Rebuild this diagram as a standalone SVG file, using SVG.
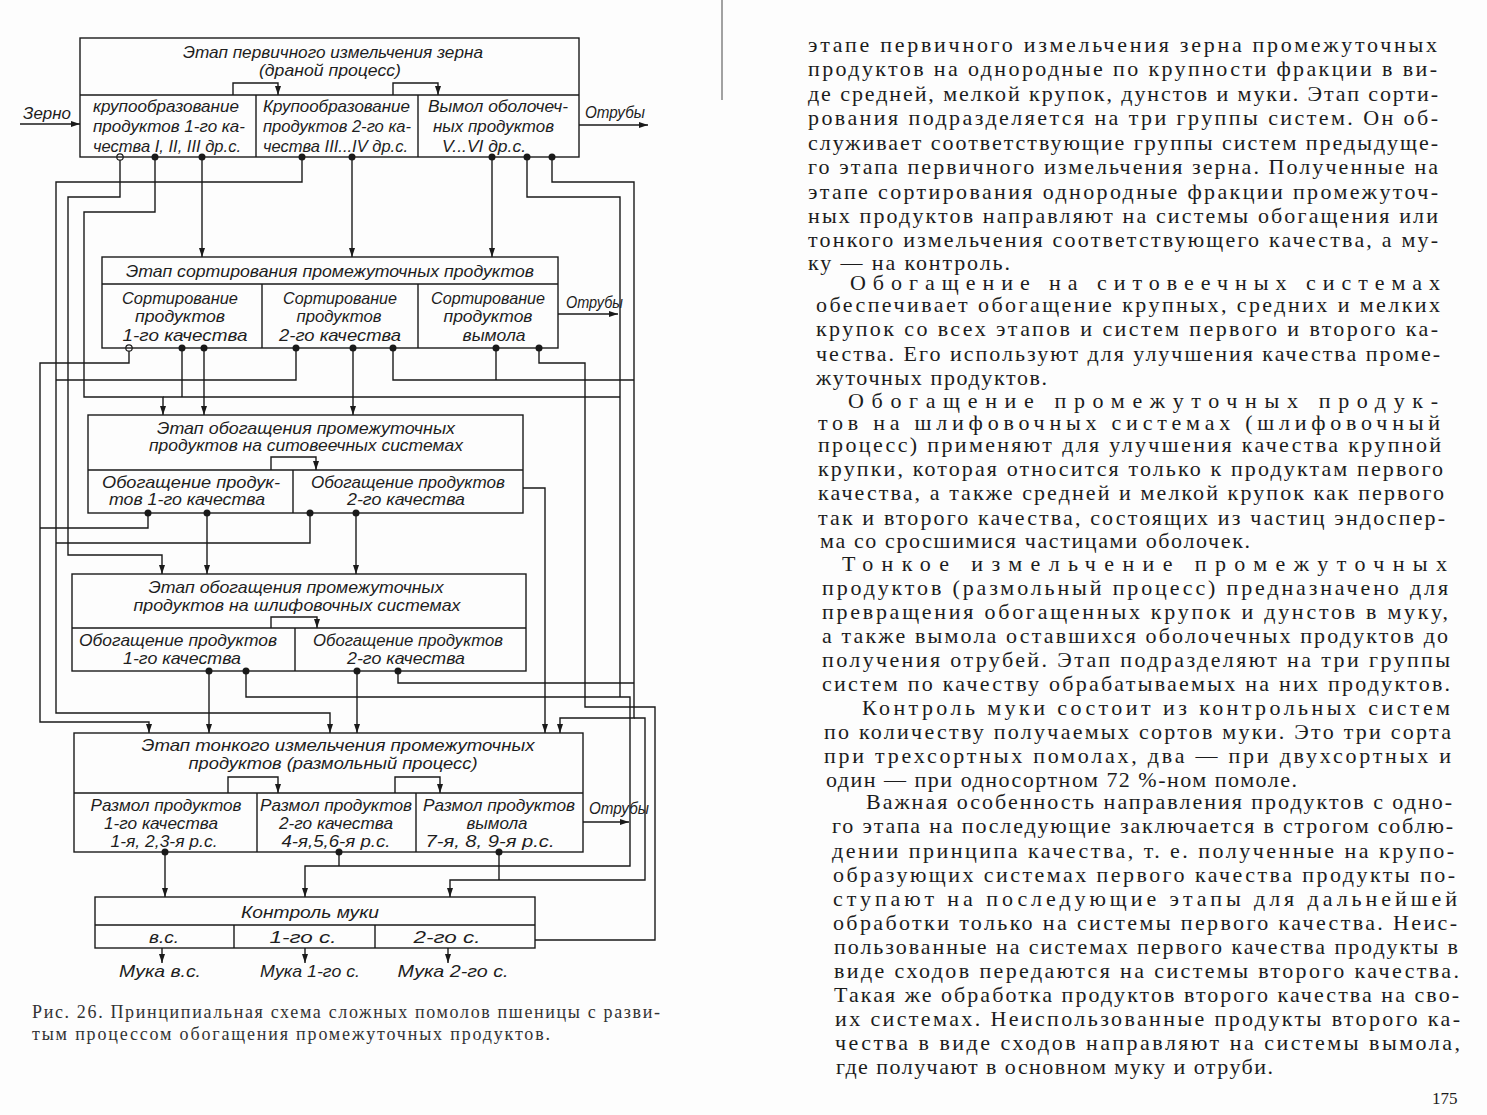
<svg xmlns="http://www.w3.org/2000/svg" width="1487" height="1115" viewBox="0 0 1487 1115">
<defs>
<marker id="ah" markerUnits="userSpaceOnUse" markerWidth="10" markerHeight="7" refX="9" refY="3.5" orient="auto">
<path d="M0,0.5 L9,3.5 L0,6.5 z" fill="#1a1a1a"/>
</marker>
<style>
.box{fill:none;stroke:#1a1a1a;stroke-width:1.4}
.ln{fill:none;stroke:#1a1a1a;stroke-width:1.4}
.c{fill:none;stroke:#1a1a1a;stroke-width:1.4}
.a{marker-end:url(#ah)}
.dot{fill:#1a1a1a}
.odot{fill:#fff;stroke:#1a1a1a;stroke-width:1.2}
.t{font-family:"Liberation Sans",Arial,sans-serif;font-style:italic;font-size:16.5px;fill:#1e1e1e;text-anchor:middle}
.ts{font-family:"Liberation Sans",Arial,sans-serif;font-style:italic;font-size:16.5px;fill:#1e1e1e;text-anchor:start}
.p{font-family:"Liberation Serif","Times New Roman",serif;font-size:22px;fill:#1c1c1c}
.cap{font-family:"Liberation Serif","Times New Roman",serif;font-size:18px;fill:#333}
</style>
</defs>
<rect width="1487" height="1115" fill="#fdfdfd"/>
<line x1="722" y1="0" x2="722" y2="100" stroke="#666" stroke-width="1.2"/>

<g id="connectors">
<path class="c a" d="M302,157 V182 H56 V713 H330 V733"/>
<path class="c a" d="M120,157 V197 H68 V555 H162 V574"/>
<path class="c a" d="M155,157 V212 H84 V397 H163 V415"/>
<path class="c a" d="M202,157 V257"/>
<path class="c a" d="M352,157 V257"/>
<path class="c a" d="M492,157 V257"/>
<path class="c" d="M527,157 V197 H620 V697"/>
<path class="c a" d="M552,157 V182 H634 V718 H560 V733"/>

<path class="c a" d="M129,348 V363 H40 V722 H149 V733"/>
<path class="c" d="M182,348 V397"/>
<path class="c a" d="M204,348 V415"/>
<path class="c" d="M296,348 V380 H56"/>
<path class="c a" d="M353,348 V415"/>
<path class="c" d="M393,348 V380 H634"/>
<path class="c" d="M496,348 V380"/>
<path class="c" d="M539,348 V363 H585 V707 H655 V940 H535"/>
<path class="c" d="M163,397 H620"/>

<path class="c" d="M148,513 V528 H40"/>
<path class="c a" d="M207,513 V574"/>
<path class="c" d="M310,513 V543 H56"/>
<path class="c a" d="M356,513 V574"/>
<path class="c a" d="M523,488 H545 V733"/>

<path class="c a" d="M209,671 V733"/>
<path class="c a" d="M246,671 V697 H630 V866 H305 V897"/>
<path class="c a" d="M357,671 V733"/>
<path class="c" d="M398,671 V683 H634"/>
<path class="c a" d="M634,718 H645 V880 H450 V897"/>

<path class="c a" d="M165,852 V897"/>
<path class="c" d="M339,852 V866"/>
<path class="c" d="M499,852 V880"/>

<path class="c a" d="M162,948 V963"/>
<path class="c a" d="M305,948 V963"/>
<path class="c a" d="M448,948 V963"/>

<path class="c a" d="M20,124 H80"/>
<path class="c a" d="M579,125 H648"/>
<path class="c a" d="M558,314 H618"/>
<path class="c a" d="M583,822 H629"/>

<path class="c a" d="M233,95 V83 H278 V95"/>
<path class="c a" d="M393,95 V83 H438 V95"/>
<path class="c a" d="M271,470 V457 H316 V470"/>
<path class="c a" d="M271,628 V617 H317 V628"/>
<path class="c a" d="M228,793 V777 H278 V793"/>
<path class="c a" d="M395,793 V777 H440 V793"/>
</g>

<g id="dots">
<circle class="odot" cx="120" cy="157" r="3.2"/>
<circle class="dot" cx="155" cy="157" r="3.5"/>
<circle class="dot" cx="202" cy="157" r="3.5"/>
<circle class="dot" cx="302" cy="157" r="3.5"/>
<circle class="dot" cx="352" cy="157" r="3.5"/>
<circle class="dot" cx="492" cy="157" r="3.5"/>
<circle class="dot" cx="527" cy="157" r="3.5"/>
<circle class="dot" cx="552" cy="157" r="3.5"/>
<circle class="odot" cx="129" cy="348" r="3.2"/>
<circle class="dot" cx="182" cy="348" r="3.5"/>
<circle class="dot" cx="204" cy="348" r="3.5"/>
<circle class="dot" cx="296" cy="348" r="3.5"/>
<circle class="dot" cx="353" cy="348" r="3.5"/>
<circle class="dot" cx="393" cy="348" r="3.5"/>
<circle class="dot" cx="496" cy="348" r="3.5"/>
<circle class="dot" cx="539" cy="348" r="3.5"/>
<circle class="dot" cx="148" cy="513" r="3.5"/>
<circle class="dot" cx="207" cy="513" r="3.5"/>
<circle class="dot" cx="310" cy="513" r="3.5"/>
<circle class="dot" cx="356" cy="513" r="3.5"/>
<circle class="dot" cx="209" cy="671" r="3.5"/>
<circle class="dot" cx="246" cy="671" r="3.5"/>
<circle class="dot" cx="357" cy="671" r="3.5"/>
<circle class="dot" cx="398" cy="671" r="3.5"/>
<circle class="dot" cx="165" cy="852" r="3.5"/>
<circle class="dot" cx="339" cy="852" r="3.5"/>
<circle class="dot" cx="499" cy="852" r="3.5"/>
</g>

<g id="stage1">
<rect class="box" x="80" y="38" width="499" height="119"/>
<path class="ln" d="M80,95 H579 M256,95 V157 M418,95 V157"/>
<text class="t" x="333" y="58" textLength="300" lengthAdjust="spacingAndGlyphs">Этап первичного измельчения зерна</text>
<text class="t" x="330" y="76" textLength="142" lengthAdjust="spacingAndGlyphs">(драной процесс)</text>
<text class="ts" x="93" y="112" textLength="146" lengthAdjust="spacingAndGlyphs">крупообразование</text>
<text class="ts" x="93" y="132" textLength="152" lengthAdjust="spacingAndGlyphs">продуктов 1-го ка-</text>
<text class="ts" x="93" y="152" textLength="148" lengthAdjust="spacingAndGlyphs">чества I, II, III др.с.</text>
<text class="ts" x="263" y="112" textLength="147" lengthAdjust="spacingAndGlyphs">Крупообразование</text>
<text class="ts" x="263" y="132" textLength="148" lengthAdjust="spacingAndGlyphs">продуктов 2-го ка-</text>
<text class="ts" x="263" y="152" textLength="145" lengthAdjust="spacingAndGlyphs">чества III...IV др.с.</text>
<text class="ts" x="428" y="112" textLength="140" lengthAdjust="spacingAndGlyphs">Вымол оболочеч-</text>
<text class="ts" x="433" y="132" textLength="121" lengthAdjust="spacingAndGlyphs">ных продуктов</text>
<text class="ts" x="442" y="152" textLength="84" lengthAdjust="spacingAndGlyphs">V...VI др.с.</text>
</g>
<g id="input-grain"><text class="ts" x="23" y="119" textLength="48" lengthAdjust="spacingAndGlyphs">Зерно</text></g>
<g id="bran1"><text class="ts" x="585" y="118" textLength="60" lengthAdjust="spacingAndGlyphs">Отрубы</text></g>

<g id="stage2">
<rect class="box" x="102" y="257" width="456" height="91"/>
<path class="ln" d="M102,284 H558 M262,284 V348 M418,284 V348"/>
<text class="t" x="330" y="277" textLength="408" lengthAdjust="spacingAndGlyphs">Этап сортирования промежуточных продуктов</text>
<text class="t" x="180" y="304" textLength="116" lengthAdjust="spacingAndGlyphs">Сортирование</text>
<text class="t" x="180" y="322" textLength="90" lengthAdjust="spacingAndGlyphs">продуктов</text>
<text class="t" x="185" y="341" textLength="125" lengthAdjust="spacingAndGlyphs">1-го качества</text>
<text class="t" x="340" y="304" textLength="114" lengthAdjust="spacingAndGlyphs">Сортирование</text>
<text class="t" x="339" y="322" textLength="85" lengthAdjust="spacingAndGlyphs">продуктов</text>
<text class="t" x="340" y="341" textLength="122" lengthAdjust="spacingAndGlyphs">2-го качества</text>
<text class="t" x="488" y="304" textLength="114" lengthAdjust="spacingAndGlyphs">Сортирование</text>
<text class="t" x="488" y="322" textLength="89" lengthAdjust="spacingAndGlyphs">продуктов</text>
<text class="t" x="494" y="341" textLength="63" lengthAdjust="spacingAndGlyphs">вымола</text>
</g>
<g id="bran2"><text class="ts" x="566" y="308" textLength="57" lengthAdjust="spacingAndGlyphs">Отрубы</text></g>

<g id="stage3">
<rect class="box" x="88" y="415" width="435" height="98"/>
<path class="ln" d="M88,470 H523 M293,470 V513"/>
<text class="t" x="306" y="434" textLength="298" lengthAdjust="spacingAndGlyphs">Этап обогащения промежуточных</text>
<text class="t" x="306" y="451" textLength="314" lengthAdjust="spacingAndGlyphs">продуктов на ситовеечных системах</text>
<text class="t" x="191" y="488" textLength="178" lengthAdjust="spacingAndGlyphs">Обогащение продук-</text>
<text class="t" x="187" y="505" textLength="156" lengthAdjust="spacingAndGlyphs">тов 1-го качества</text>
<text class="t" x="408" y="488" textLength="194" lengthAdjust="spacingAndGlyphs">Обогащение продуктов</text>
<text class="t" x="406" y="505" textLength="118" lengthAdjust="spacingAndGlyphs">2-го качества</text>
</g>

<g id="stage4">
<rect class="box" x="72" y="574" width="454" height="97"/>
<path class="ln" d="M72,628 H526 M295,628 V671"/>
<text class="t" x="296" y="593" textLength="295" lengthAdjust="spacingAndGlyphs">Этап обогащения промежуточных</text>
<text class="t" x="297" y="611" textLength="327" lengthAdjust="spacingAndGlyphs">продуктов на шлифовочных системах</text>
<text class="t" x="178" y="646" textLength="198" lengthAdjust="spacingAndGlyphs">Обогащение продуктов</text>
<text class="t" x="182" y="664" textLength="118" lengthAdjust="spacingAndGlyphs">1-го качества</text>
<text class="t" x="408" y="646" textLength="190" lengthAdjust="spacingAndGlyphs">Обогащение продуктов</text>
<text class="t" x="406" y="664" textLength="118" lengthAdjust="spacingAndGlyphs">2-го качества</text>
</g>

<g id="stage5">
<rect class="box" x="74" y="733" width="509" height="119"/>
<path class="ln" d="M74,793 H583 M257,793 V852 M416,793 V852"/>
<text class="t" x="338" y="751" textLength="393" lengthAdjust="spacingAndGlyphs">Этап тонкого измельчения промежуточных</text>
<text class="t" x="333" y="769" textLength="289" lengthAdjust="spacingAndGlyphs">продуктов (размольный процесс)</text>
<text class="t" x="166" y="811" textLength="151" lengthAdjust="spacingAndGlyphs">Размол продуктов</text>
<text class="t" x="161" y="829" textLength="114" lengthAdjust="spacingAndGlyphs">1-го качества</text>
<text class="t" x="164" y="847" textLength="107" lengthAdjust="spacingAndGlyphs">1-я, 2,3-я р.с.</text>
<text class="t" x="336" y="811" textLength="152" lengthAdjust="spacingAndGlyphs">Размол продуктов</text>
<text class="t" x="336" y="829" textLength="114" lengthAdjust="spacingAndGlyphs">2-го качества</text>
<text class="t" x="336" y="847" textLength="109" lengthAdjust="spacingAndGlyphs">4-я,5,6-я р.с.</text>
<text class="t" x="499" y="811" textLength="152" lengthAdjust="spacingAndGlyphs">Размол продуктов</text>
<text class="t" x="497" y="829" textLength="61" lengthAdjust="spacingAndGlyphs">вымола</text>
<text class="t" x="490" y="847" textLength="129" lengthAdjust="spacingAndGlyphs">7-я, 8, 9-я р.с.</text>
</g>
<g id="bran5"><text class="ts" x="589" y="814" textLength="60" lengthAdjust="spacingAndGlyphs">Отрубы</text></g>

<g id="stage6">
<rect class="box" x="95" y="897" width="440" height="51"/>
<path class="ln" d="M95,925 H535 M234,925 V948 M375,925 V948"/>
<text class="t" x="310" y="918" textLength="138" lengthAdjust="spacingAndGlyphs">Контроль муки</text>
<text class="t" x="164" y="943" textLength="30" lengthAdjust="spacingAndGlyphs">в.с.</text>
<text class="t" x="303" y="943" textLength="67" lengthAdjust="spacingAndGlyphs">1-го с.</text>
<text class="t" x="447" y="943" textLength="67" lengthAdjust="spacingAndGlyphs">2-го с.</text>
</g>
<g id="flour-top"><text class="t" x="160" y="977" textLength="82" lengthAdjust="spacingAndGlyphs">Мука в.с.</text></g>
<g id="flour-1"><text class="t" x="310" y="977" textLength="100" lengthAdjust="spacingAndGlyphs">Мука 1-го с.</text></g>
<g id="flour-2"><text class="t" x="453" y="977" textLength="111" lengthAdjust="spacingAndGlyphs">Мука 2-го с.</text></g>

<g id="caption">
<text class="cap" x="32" y="1018" textLength="628">Рис. 26. Принципиальная схема сложных помолов пшеницы с разви-</text>
<text class="cap" x="32" y="1040" textLength="518">тым процессом обогащения промежуточных продуктов.</text>
</g>

<g id="page-text">
<text class="p" x="808" y="52" textLength="629">этапе  первичного  измельчения зерна  промежуточных</text>
<text class="p" x="808" y="76" textLength="629">продуктов на однородные по крупности фракции в ви-</text>
<text class="p" x="808" y="101" textLength="630">де средней, мелкой крупок, дунстов и муки. Этап сорти-</text>
<text class="p" x="808" y="125" textLength="630">рования  подразделяется на три группы систем. Он об-</text>
<text class="p" x="808" y="150" textLength="630">служивает соответствующие группы систем предыдуще-</text>
<text class="p" x="808" y="174" textLength="630">го этапа первичного измельчения зерна. Полученные на</text>
<text class="p" x="808" y="199" textLength="630">этапе сортирования однородные фракции промежуточ-</text>
<text class="p" x="808" y="223" textLength="630">ных продуктов направляют на системы обогащения или</text>
<text class="p" x="808" y="247" textLength="630">тонкого  измельчения соответствующего качества, а му-</text>
<text class="p" x="808" y="270" textLength="202">ку — на контроль.</text>
<text class="p" x="850" y="290" textLength="590">Обогащение на ситовеечных  системах</text>
<text class="p" x="816" y="312" textLength="624">обеспечивает  обогащение крупных,  средних и мелких</text>
<text class="p" x="816" y="336" textLength="622">крупок со всех этапов и систем первого и второго ка-</text>
<text class="p" x="816" y="361" textLength="624">чества. Его используют для улучшения качества проме-</text>
<text class="p" x="816" y="385" textLength="231">жуточных продуктов.</text>
<text class="p" x="848" y="408" textLength="590">Обогащение   промежуточных   продук-</text>
<text class="p" x="818" y="430" textLength="622">тов на шлифовочных системах (шлифовочный</text>
<text class="p" x="818" y="452" textLength="623">процесс) применяют для улучшения качества крупной</text>
<text class="p" x="818" y="476" textLength="625">крупки, которая относится только к продуктам первого</text>
<text class="p" x="818" y="500" textLength="626">качества, а также средней и мелкой крупок как первого</text>
<text class="p" x="818" y="525" textLength="627">так  и второго качества, состоящих из частиц эндоспер-</text>
<text class="p" x="820" y="548" textLength="430">ма со сросшимися частицами оболочек.</text>
<text class="p" x="842" y="571" textLength="605">Тонкое  измельчение  промежуточных</text>
<text class="p" x="822" y="595" textLength="626">продуктов (размольный процесс) предназначено для</text>
<text class="p" x="822" y="619" textLength="626">превращения обогащенных крупок и дунстов в муку,</text>
<text class="p" x="822" y="643" textLength="626">а также вымола оставшихся оболочечных продуктов до</text>
<text class="p" x="822" y="667" textLength="628">получения отрубей. Этап подразделяют на три  группы</text>
<text class="p" x="822" y="691" textLength="628">систем по качеству обрабатываемых на них продуктов.</text>
<text class="p" x="862" y="715" textLength="588">Контроль муки состоит из контрольных систем</text>
<text class="p" x="824" y="739" textLength="627">по количеству получаемых сортов муки. Это три  сорта</text>
<text class="p" x="824" y="763" textLength="627">при трехсортных  помолах,  два — при  двухсортных и</text>
<text class="p" x="826" y="787" textLength="471">один — при односортном 72 %-ном помоле.</text>
<text class="p" x="866" y="809" textLength="586">Важная особенность направления продуктов с одно-</text>
<text class="p" x="832" y="833" textLength="621">го этапа на последующие заключается в строгом соблю-</text>
<text class="p" x="832" y="858" textLength="622">дении принципа качества, т. е. полученные на крупо-</text>
<text class="p" x="833" y="882" textLength="622">образующих системах первого качества  продукты по-</text>
<text class="p" x="833" y="906" textLength="624">ступают на  последующие  этапы для дальнейшей</text>
<text class="p" x="833" y="930" textLength="624">обработки только на системы первого качества. Неис-</text>
<text class="p" x="834" y="954" textLength="624">пользованные на системах первого качества продукты в</text>
<text class="p" x="834" y="978" textLength="625">виде сходов передаются на системы второго качества.</text>
<text class="p" x="834" y="1002" textLength="625">Такая же обработка продуктов второго качества на сво-</text>
<text class="p" x="835" y="1026" textLength="625">их системах. Неиспользованные продукты второго ка-</text>
<text class="p" x="835" y="1050" textLength="625">чества в виде сходов направляют на системы вымола,</text>
<text class="p" x="836" y="1074" textLength="437">где получают в основном муку и отруби.</text>
<text class="p" x="1432" y="1104" style="font-size:17px">175</text>
</g>
</svg>
